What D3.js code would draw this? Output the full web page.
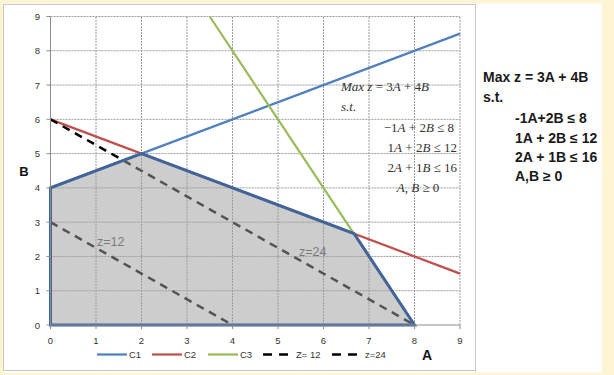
<!DOCTYPE html>
<html>
<head>
<meta charset="utf-8">
<script src="https://cdn.jsdelivr.net/npm/d3@7"></script>
<style>
  html, body { margin: 0; padding: 0; background: #fdf5d3; }
  svg { display: block; }
</style>
</head>
<body>
<div id="chart"></div>
<script>
// chart data
const xTicks = [0, 1, 2, 3, 4, 5, 6, 7, 8, 9];
const yTicks = [0, 1, 2, 3, 4, 5, 6, 7, 8, 9];
const c1 = [[0, 4], [9, 8.5]];        // -A + 2B = 8
const c2 = [[0, 6], [9, 1.5]];        // A + 2B = 12
const c3 = [[3.5, 9], [8, 0]];        // 2A + B = 16
const z12 = [[0, 3], [4, 0]];         // 3A + 4B = 12
const z24 = [[0, 6], [8, 0]];         // 3A + 4B = 24
const feasible = [[0, 0], [0, 4], [2, 5], [6.67, 2.67], [8, 0]];
const legendNames = ["C1", "C2", "C3", "Z= 12", "z=24"];
const modelLines = ["Max z = 3A + 4B", "s.t.", "-1A+2B \u2264 8", "1A + 2B \u2264 12", "2A + 1B \u2264 16", "A,B \u2265 0"];

const W = 614, H = 375;
const svg = d3.select("#chart").append("svg")
    .attr("width", W)
    .attr("height", H);

// white panel + chart box
svg.append("rect").attr("x", 3).attr("y", 3.5).attr("width", 599).attr("height", 369)
    .attr("fill", "#fff");
svg.append("rect").attr("x", 3.5).attr("y", 4.5).attr("width", 472).attr("height", 366)
    .attr("fill", "none").attr("stroke", "#c8c8c8");

const x = d3.scaleLinear().domain([0, 9]).range([50.5, 460]);
const y = d3.scaleLinear().domain([0, 9]).range([325, 16.5]);
const line = d3.line().x(d => x(d[0])).y(d => y(d[1]));

// grid
const grid = svg.append("g");
grid.selectAll(".gx").data(xTicks.slice(1)).join("line")
    .attr("x1", d => x(d)).attr("x2", d => x(d))
    .attr("y1", y(0)).attr("y2", y(9));
grid.selectAll(".gy").data(yTicks.slice(1)).join("line")
    .attr("x1", x(0)).attr("x2", x(9))
    .attr("y1", d => y(d)).attr("y2", d => y(d));
grid.selectAll("line")
    .attr("stroke", "#9a9a9a").attr("stroke-width", 1).attr("stroke-dasharray", "2,1");

// constraint lines
const plot = svg.append("g");
plot.append("path").attr("d", line(c1)).attr("stroke", "#4f81bd");
plot.append("path").attr("d", line(c2)).attr("stroke", "#c0504d");
plot.append("path").attr("d", line(c3)).attr("stroke", "#9bbb59");
plot.selectAll("path").attr("fill", "none").attr("stroke-width", 2.25);

// objective lines
[z12, z24].forEach(p => {
  plot.append("path").attr("d", line(p))
      .attr("fill", "none").attr("stroke", "#000")
      .attr("stroke-width", 2.5).attr("stroke-dasharray", "8,6");
});

// feasible region
plot.append("path").attr("d", line(feasible) + "Z")
    .attr("fill", "#a0a0a0").attr("fill-opacity", 0.52)
    .attr("stroke", "#41659a").attr("stroke-width", 3).attr("stroke-linejoin", "miter");

// axes
const axes = svg.append("g").attr("font-family", "Liberation Sans, Arial, sans-serif")
    .attr("font-size", 9.5).attr("fill", "#333");
axes.append("line").attr("x1", x(0)).attr("x2", x(9)).attr("y1", y(0)).attr("y2", y(0))
    .attr("stroke", "#8c8c8c");
axes.append("line").attr("x1", x(0)).attr("x2", x(0)).attr("y1", y(0)).attr("y2", y(9))
    .attr("stroke", "#8c8c8c");
axes.selectAll(".tx").data(xTicks).join("line")
    .attr("x1", d => x(d)).attr("x2", d => x(d)).attr("y1", y(0)).attr("y2", y(0) + 4)
    .attr("stroke", "#8c8c8c");
axes.selectAll(".ty").data(yTicks).join("line")
    .attr("x1", x(0) - 4).attr("x2", x(0)).attr("y1", d => y(d)).attr("y2", d => y(d))
    .attr("stroke", "#8c8c8c");
axes.selectAll(".lx").data(xTicks).join("text")
    .attr("x", d => x(d)).attr("y", y(0) + 19).attr("text-anchor", "middle").text(d => d);
axes.selectAll(".ly").data(yTicks).join("text")
    .attr("x", 40).attr("y", d => y(d) + 3.5).attr("text-anchor", "end").text(d => d);

// axis titles
svg.append("text").attr("x", 24).attr("y", 176).attr("text-anchor", "middle")
    .attr("font-family", "Liberation Sans, Arial, sans-serif").attr("font-weight", "bold")
    .attr("font-size", 13).attr("fill", "#111").text("B");
svg.append("text").attr("x", 427).attr("y", 360).attr("text-anchor", "middle")
    .attr("font-family", "Liberation Sans, Arial, sans-serif").attr("font-weight", "bold")
    .attr("font-size", 14).attr("fill", "#111").text("A");

// z labels
svg.append("text").attr("x", 97).attr("y", 246).attr("font-family", "Liberation Sans, Arial, sans-serif")
    .attr("font-size", 12.5).attr("fill", "#7a7a7a").text("z=12");
svg.append("text").attr("x", 299).attr("y", 256).attr("font-family", "Liberation Sans, Arial, sans-serif")
    .attr("font-size", 12.5).attr("fill", "#7a7a7a").text("z=24");

// in-plot model (serif, letters italic)
function mathText(xp, yp, parts, anchor) {
  const t = svg.append("text").attr("x", xp).attr("y", yp)
      .attr("font-family", "Liberation Serif, Times New Roman, serif")
      .attr("font-size", 13).attr("fill", "#333").attr("text-anchor", anchor || "start");
  parts.forEach(p => {
    t.append("tspan").attr("font-style", p[1] ? "italic" : "normal").text(p[0]);
  });
}
mathText(341, 91, [["Max z", 1], [" = 3", 0], ["A", 1], [" + 4", 0], ["B", 1]]);
mathText(341, 111, [["s.t.", 1]]);
mathText(454, 132, [["\u22121", 0], ["A", 1], [" + 2", 0], ["B", 1], [" \u2264 8", 0]], "end");
mathText(457, 152, [["1", 0], ["A", 1], [" + 2", 0], ["B", 1], [" \u2264 12", 0]], "end");
mathText(457, 172, [["2", 0], ["A", 1], [" + 1", 0], ["B", 1], [" \u2264 16", 0]], "end");
mathText(418, 192, [["A, B", 1], [" \u2265 0", 0]], "middle");

// legend
const legendItems = [
  {name: legendNames[0], color: "#4f81bd", dash: null, x0: 97},
  {name: legendNames[1], color: "#c0504d", dash: null, x0: 152},
  {name: legendNames[2], color: "#9bbb59", dash: null, x0: 208},
  {name: legendNames[3], color: "#000", dash: "9,7", x0: 263},
  {name: legendNames[4], color: "#000", dash: "9,7", x0: 332}
];
const legend = svg.append("g").attr("font-family", "Liberation Sans, Arial, sans-serif")
    .attr("font-size", 9.5).attr("fill", "#333");
legendItems.forEach(d => {
  legend.append("line").attr("x1", d.x0).attr("x2", d.x0 + (d.dash ? 25 : 30))
      .attr("y1", 354.5).attr("y2", 354.5)
      .attr("stroke", d.color).attr("stroke-width", d.dash ? 2.5 : 2.25)
      .attr("stroke-dasharray", d.dash);
  legend.append("text").attr("x", d.x0 + (d.dash ? 33 : 32)).attr("y", 358).text(d.name);
});

// model text on the right
const model = svg.append("g").attr("font-family", "Liberation Sans, Arial, sans-serif")
    .attr("font-weight", "bold").attr("font-size", 14).attr("fill", "#1a1a1a");
const modelX = [483, 483, 515, 515, 515, 515];
const modelY = [82, 102, 123, 143, 162, 181];
model.selectAll("text").data(modelLines).join("text")
    .attr("x", (d, i) => modelX[i]).attr("y", (d, i) => modelY[i]).text(d => d);
</script>
</body>
</html>
